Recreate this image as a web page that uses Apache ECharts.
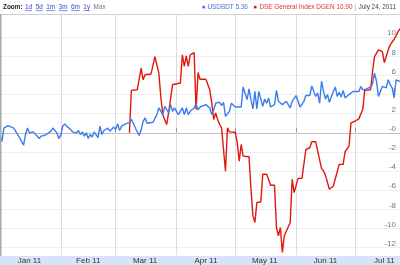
<!DOCTYPE html>
<html><head><meta charset="utf-8">
<script src="https://cdn.jsdelivr.net/npm/echarts@6/dist/echarts.min.js"></script>
<style>html,body{margin:0;padding:0;background:#fff}#c{width:400px;height:265px}</style>
</head><body><div id="c"></div>
<script>
// USDBDT (% change) — blue
const usdbdtDates = [
'2011-01-01','2011-01-02','2011-01-03','2011-01-05','2011-01-06','2011-01-08','2011-01-09','2011-01-10','2011-01-11','2011-01-12','2011-01-13','2011-01-14','2011-01-15','2011-01-16','2011-01-18','2011-01-19','2011-01-20','2011-01-21','2011-01-22','2011-01-23','2011-01-24','2011-01-25','2011-01-27','2011-01-28','2011-01-29','2011-01-30','2011-01-31',
'2011-02-01','2011-02-02','2011-02-03','2011-02-04','2011-02-06','2011-02-07','2011-02-09','2011-02-10','2011-02-11','2011-02-12','2011-02-13','2011-02-14','2011-02-15','2011-02-16','2011-02-17','2011-02-18','2011-02-20','2011-02-21','2011-02-22','2011-02-23','2011-02-24','2011-02-25','2011-02-26','2011-02-27','2011-02-28',
'2011-03-01','2011-03-02','2011-03-03','2011-03-04','2011-03-06','2011-03-07','2011-03-08','2011-03-09','2011-03-10','2011-03-11','2011-03-13','2011-03-14','2011-03-15','2011-03-16','2011-03-17','2011-03-18','2011-03-20','2011-03-21','2011-03-22','2011-03-23','2011-03-24','2011-03-25','2011-03-26','2011-03-27','2011-03-28','2011-03-29','2011-03-30','2011-03-31',
'2011-04-01','2011-04-02','2011-04-03','2011-04-04','2011-04-05','2011-04-06','2011-04-07','2011-04-08','2011-04-09','2011-04-10','2011-04-11','2011-04-12','2011-04-13','2011-04-14','2011-04-16','2011-04-18','2011-04-19','2011-04-20','2011-04-21','2011-04-23','2011-04-24','2011-04-25','2011-04-26','2011-04-28','2011-04-29','2011-04-30',
'2011-05-01','2011-05-02','2011-05-04','2011-05-05','2011-05-06','2011-05-07','2011-05-08','2011-05-09','2011-05-10','2011-05-11','2011-05-12','2011-05-13','2011-05-14','2011-05-15','2011-05-16','2011-05-17','2011-05-18','2011-05-19','2011-05-21','2011-05-22','2011-05-23','2011-05-24','2011-05-25','2011-05-27','2011-05-28','2011-05-29','2011-05-30',
'2011-06-01','2011-06-02','2011-06-03','2011-06-04','2011-06-05','2011-06-06','2011-06-08','2011-06-09','2011-06-10','2011-06-11','2011-06-12','2011-06-13','2011-06-14','2011-06-15','2011-06-16','2011-06-17','2011-06-18','2011-06-20','2011-06-21','2011-06-22','2011-06-23','2011-06-24','2011-06-25','2011-06-26','2011-06-28','2011-06-29','2011-06-30',
'2011-07-01','2011-07-03','2011-07-04','2011-07-05','2011-07-07','2011-07-08','2011-07-09','2011-07-10','2011-07-11','2011-07-12','2011-07-13','2011-07-14','2011-07-15','2011-07-16','2011-07-17','2011-07-18','2011-07-19','2011-07-20','2011-07-21','2011-07-22','2011-07-23','2011-07-24'
];
const usdbdtValues = [
-0.2,-0.9,0.5,0.76,0.7,0.5,0.6,-0.18,-0.5,-0.9,-1.3,-0.2,0.5,0,0.1,0,-0.35,-0.6,-0.35,-0.45,-0.25,-0.1,0.17,0.5,0.6,0,-0.6,
-0.25,0.7,0.94,0.7,0.34,0.1,0,0.24,-0.18,0.1,-0.35,0,-0.6,-0.18,-0.45,0.1,-0.5,0.7,-0.18,0.24,0.17,0.5,0.17,0.34,0.6,
0.34,0.94,0.24,0.7,0.94,1.0,1.07,1.4,1.0,0.5,-0.28,0.34,1.2,1.56,1.0,1.2,1.1,1.3,1.9,2.6,2.7,1.9,2.77,2.95,2.1,2.95,2.25,2.6,
2.4,1.9,1.9,2.6,1.9,2.6,1.9,2.25,2.4,2.6,3.05,2.4,2.7,2.6,2.95,2.6,1.9,2.4,3.1,3.2,2.84,3.2,1.73,2.25,3.1,2.95,
2.7,2.6,2.7,4.8,4.7,3.47,4.6,3.47,2.5,4.33,2.5,4.33,4.4,2.77,3.54,3.1,3.65,2.7,2.95,4.44,3.3,3.1,2.95,3.3,3.1,2.6,3.3,
3.9,3.3,2.7,2.6,3.3,3.9,3.9,4.9,4.85,3.8,4.17,3.1,5.4,4.33,3.54,4.0,3.2,4.33,4.8,3.8,4.23,3.75,4.44,3.65,4.0,4.1,4.33,
4.23,4.33,4.85,4.5,4.6,4.5,4.8,5.13,6.25,5.4,3.8,3.65,4.85,5.03,4.7,5.55,5.03,4.7,3.65,5.55,5.55,5.36
];
// DSE General Index DGEN (% change) — red
const dgenDates = [
'2011-03-08','2011-03-09','2011-03-12','2011-03-14','2011-03-15','2011-03-16','2011-03-19','2011-03-21','2011-03-23','2011-03-24','2011-03-25','2011-03-27','2011-03-28','2011-03-30',
'2011-04-03','2011-04-04','2011-04-05','2011-04-06','2011-04-07','2011-04-08','2011-04-09','2011-04-10','2011-04-11','2011-04-12','2011-04-13','2011-04-16','2011-04-18','2011-04-19','2011-04-20','2011-04-21','2011-04-22','2011-04-23','2011-04-24','2011-04-25','2011-04-26','2011-04-27','2011-04-28',
'2011-05-01','2011-05-02','2011-05-03','2011-05-04','2011-05-05','2011-05-08','2011-05-09','2011-05-10','2011-05-11','2011-05-12','2011-05-14','2011-05-15','2011-05-17','2011-05-19','2011-05-21','2011-05-22','2011-05-23','2011-05-24','2011-05-25','2011-05-26','2011-05-27','2011-05-29','2011-05-30','2011-05-31',
'2011-06-02','2011-06-04','2011-06-06','2011-06-08','2011-06-09','2011-06-11','2011-06-14','2011-06-15','2011-06-16','2011-06-18','2011-06-19','2011-06-20','2011-06-23','2011-06-25','2011-06-26','2011-06-28','2011-06-29',
'2011-07-01','2011-07-03','2011-07-05','2011-07-06','2011-07-09','2011-07-10','2011-07-11','2011-07-13','2011-07-14','2011-07-15','2011-07-16','2011-07-17','2011-07-18','2011-07-19','2011-07-21','2011-07-22','2011-07-23','2011-07-24'
];
const dgenValues = [
0,4.44,4.51,6.77,5.55,6.07,6.15,7.98,6.25,3.81,1.9,0.86,2.11,5.03,
5.21,8.16,6.94,8.05,6.94,8.16,8.26,8.4,2.43,6.31,5.6,5.6,4.5,3.1,1.4,2.08,1.4,0.9,0.52,0.42,-4.0,0.52,0.1,
0.06,-1.04,-2.96,-1.22,-2.44,-2.5,-5.9,-8.69,-9.38,-7.29,-7.23,-4.34,-4.34,-5.49,-5.49,-9.9,-10.77,-9.9,-12.5,-10.77,-10.7,-9.38,-4.86,-6.25,
-4.76,-4.76,-1.74,-1.56,-0.94,-0.94,-3.75,-4.0,-4.45,-5.9,-5.98,-5.56,-3.3,-3.3,-1.98,-1.4,1.04,
1.21,1.46,2.43,4.44,4.51,6.42,7.98,8.68,8.78,8.5,7.35,7.35,8.68,9.2,9.79,10.14,10.58,10.9
];
const yTickValues = [-12,-10,-8,-6,-4,-2,0,2,4,6,8,10];
const monthStarts = ['2011-02-01','2011-03-01','2011-04-01','2011-05-01','2011-06-01','2011-07-01'];
const monthLabelDates = ['2011-01-16','2011-02-15','2011-03-16','2011-04-16','2011-05-16','2011-06-16','2011-07-16'];
const monthNames = ['Jan','Feb','Mar','Apr','May','Jun','Jul','Aug','Sep','Oct','Nov','Dec'];
const zoomLinks = ['1d','5d','1m','3m','6m','1y'];
const usdbdtName = 'USDBDT';
const dgenName = 'DSE General Index DGEN';
const dateLabel = 'July 24, 2011';

const ts = s => +echarts.number.parseDate(s);
const FONT = '"Liberation Sans", Arial, sans-serif';
const BLUE = '#3b7ded', RED = '#e0180a';
const HS = 6.4; // header font size

const mctx = document.createElement('canvas').getContext('2d');
function textW(text, bold) {
  mctx.font = (bold ? 'bold ' : '') + HS + 'px ' + FONT;
  return mctx.measureText(text).width;
}
function hText(text, x, color, bold) {
  return {type:'text', x:x, y:7, style:{text:text, fill:color, font:(bold ? 'bold ' : '') + HS + 'px ' + FONT, verticalAlign:'middle'}};
}

const chart = echarts.init(document.getElementById('c'), null, {renderer: 'canvas'});

const graphics = [
  {type:'rect', z:-10, shape:{x:0, y:256, width:400, height:9}, style:{fill:'#d6e4f6'}},
  {type:'line', z:5, shape:{x1:0, y1:14.5, x2:400, y2:14.5}, style:{stroke:'#d0d0d0', lineWidth:1}},
  {type:'line', z:5, shape:{x1:0.5, y1:14, x2:0.5, y2:256}, style:{stroke:'#a8a8a8', lineWidth:2}}
];
// toolbar, laid out left to right
let cx = 3;
graphics.push(hText('Zoom:', cx, '#222', true));
cx += textW('Zoom:', true) + 2.5;
zoomLinks.forEach(t => {
  const w = textW(t, false);
  graphics.push(hText(t, cx, '#3344cc', false));
  graphics.push({type:'line', shape:{x1:cx, y1:10.6, x2:cx + w, y2:10.6}, style:{stroke:'#3344cc', lineWidth:0.6}});
  cx += w + 3.5;
});
graphics.push(hText('Max', cx, '#777', false));

// legend, laid out right to left from x=396
const usdText = usdbdtName + ' ' + usdbdtValues[usdbdtValues.length-1].toFixed(2);
const dseText = dgenName + ' ' + dgenValues[dgenValues.length-1].toFixed(2);
let rx = 396;
rx -= textW(dateLabel, false); graphics.push(hText(dateLabel, rx, '#444', false));
rx -= 4; graphics.push(hText('|', rx, '#999', false));
rx -= 2 + textW(dseText, false); graphics.push(hText(dseText, rx, '#e0321e', false));
rx -= 5.5; graphics.push({type:'rect', shape:{x:rx, y:5.8, width:2.6, height:2.6}, style:{fill:RED}});
rx -= 6 + textW(usdText, false); graphics.push(hText(usdText, rx, '#4f6fd8', false));
rx -= 5; graphics.push({type:'rect', shape:{x:rx, y:5.8, width:2.6, height:2.6}, style:{fill:BLUE}});

const option = {
  animation: false,
  backgroundColor: '#fff',
  grid: {left: -1.2, top: 14, width: 402.5, height: 242, containLabel: false},
  xAxis: {
    type: 'value',
    min: ts('2011-01-01'), max: ts('2011-07-24'),
    axisLine: {show: false},
    axisTick: {show: true, inside: true, length: 5, customValues: monthStarts.map(ts), lineStyle: {color: '#999'}},
    splitLine: {show: true, lineStyle: {color: '#dcdcdc', width: 1}},
    axisLabel: {
      show: true, customValues: monthLabelDates.map(ts), margin: 2, hideOverlap: false,
      color: '#334', fontSize: 8, fontFamily: FONT,
      formatter: v => monthNames[new Date(v).getMonth()] + ' 11'
    }
  },
  yAxis: {
    type: 'value', position: 'right',
    min: -12.78, max: 12.43,
    axisLine: {show: false},
    axisTick: {show: false, customValues: yTickValues},
    splitLine: {show: true, lineStyle: {color: yTickValues.map(v => v === 0 ? '#c9bcbc' : '#eeeeee'), width: 1}},
    axisLabel: {
      inside: true, customValues: yTickValues, margin: 4,
      color: '#777', fontSize: 8, fontFamily: FONT, verticalAlign: 'bottom',
      formatter: v => v === 0 ? '-0' : String(v)
    }
  },
  series: [
    {name: dgenName, type: 'line', showSymbol: false, symbol: 'none', clip: true,
     lineStyle: {color: RED, width: 1.4}, itemStyle: {color: RED},
     data: dgenDates.map((d, i) => [ts(d), dgenValues[i]])},
    {name: usdbdtName, type: 'line', showSymbol: false, symbol: 'none', clip: true,
     lineStyle: {color: BLUE, width: 1.4}, itemStyle: {color: BLUE},
     data: usdbdtDates.map((d, i) => [ts(d), usdbdtValues[i]])}
  ],
  graphic: graphics
};
chart.setOption(option);
</script></body></html>
